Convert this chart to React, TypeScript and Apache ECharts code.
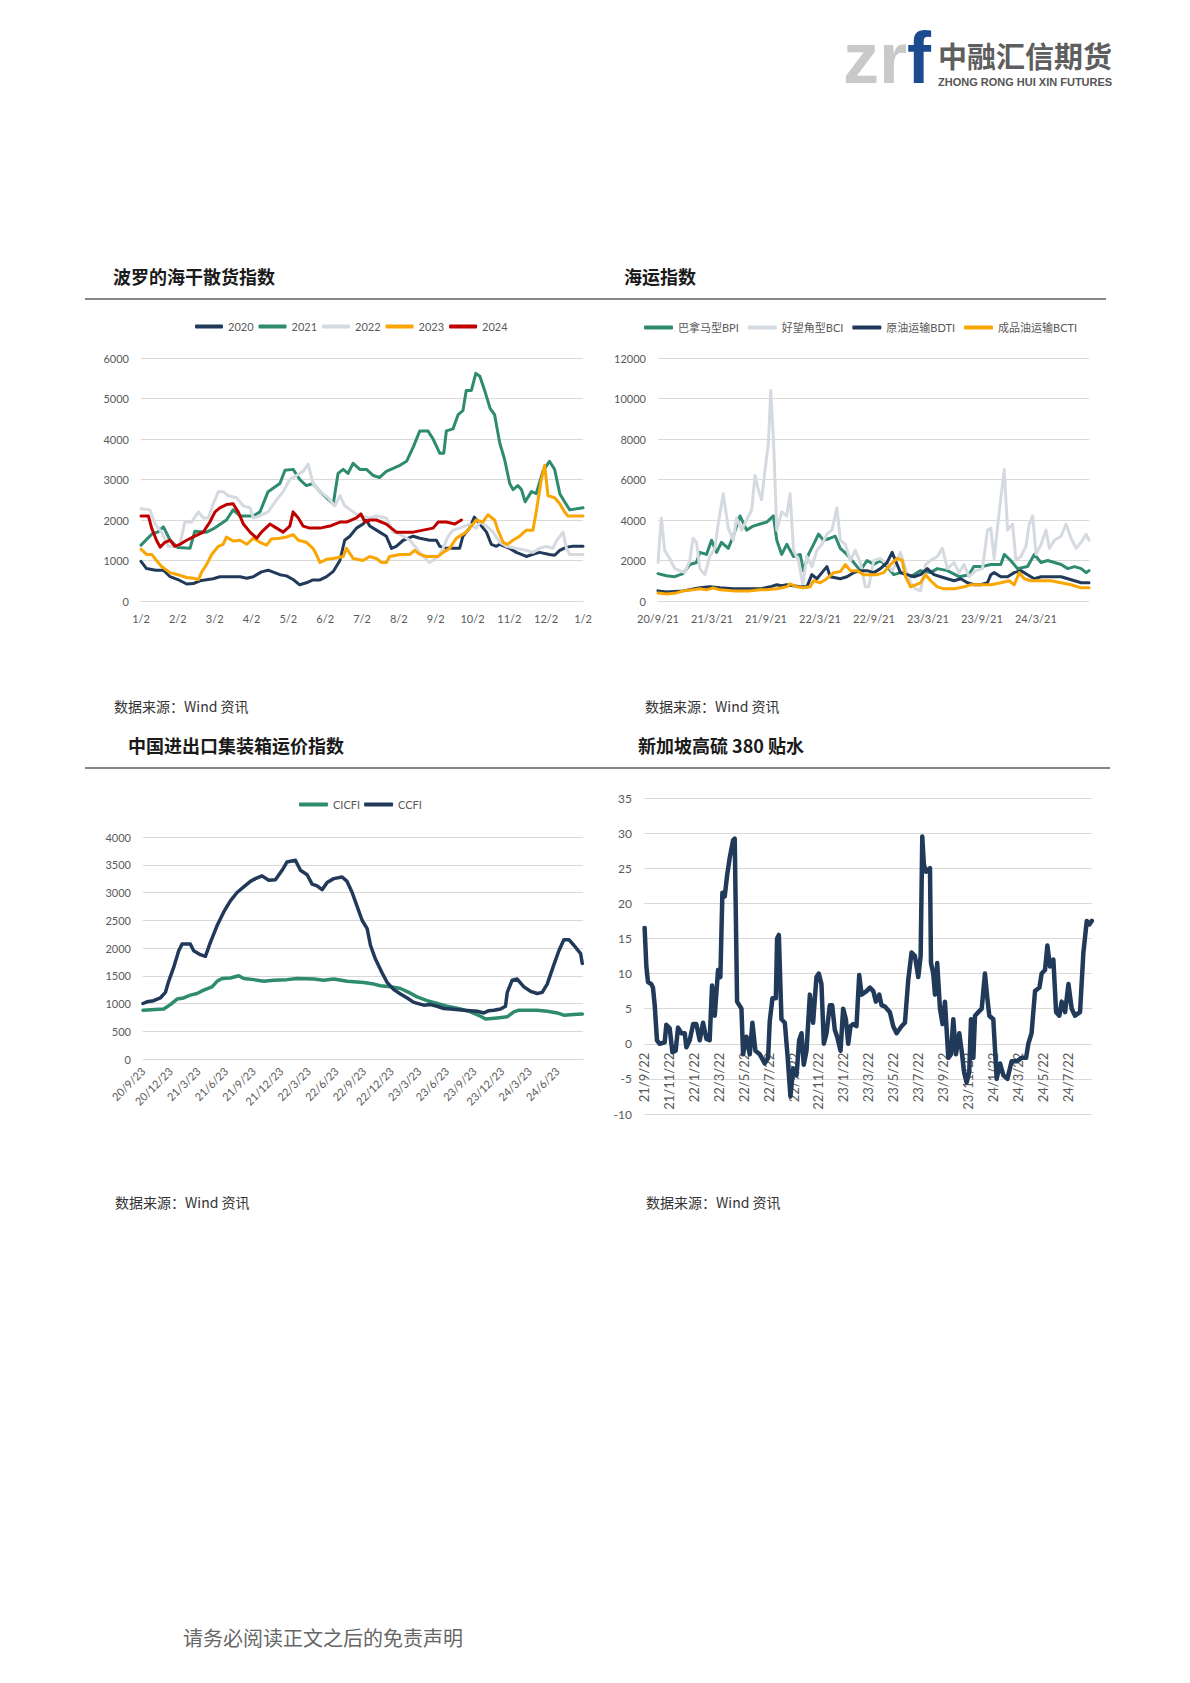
import React, { useEffect, useRef } from "react";
import * as echarts from "echarts";

type P = [number, number][];

// ---------- Chart 1: BDI by year (x = months since 1/2) ----------
const bdiMonthTicks = ["1/2", "2/2", "3/2", "4/2", "5/2", "6/2", "7/2", "8/2", "9/2", "10/2", "11/2", "12/2", "1/2"];
const bdiYears = ["2020", "2021", "2022", "2023", "2024"];
const bdi2020: P = [[0,980],[0.15,800],[0.4,760],[0.61,760],[0.79,600],[1.0,530],[1.24,420],[1.42,430],[1.6,500],[1.96,550],[2.14,600],[2.69,600],[2.87,560],[3.05,600],[3.27,720],[3.45,760],[3.77,650],[3.95,620],[4.13,530],[4.31,400],[4.49,450],[4.67,520],[4.86,520],[5.04,600],[5.22,730],[5.4,1000],[5.53,1500],[5.67,1600],[5.85,1800],[6.03,1900],[6.12,2000],[6.21,1850],[6.48,1700],[6.66,1600],[6.8,1300],[6.93,1350],[7.12,1500],[7.39,1600],[7.57,1550],[7.84,1500],[8.02,1500],[8.11,1350],[8.29,1300],[8.65,1300],[8.74,1600],[8.92,1800],[9.05,2070],[9.2,1900],[9.38,1700],[9.51,1400],[9.65,1350],[9.74,1400],[10.01,1300],[10.19,1200],[10.46,1100],[10.64,1150],[10.82,1200],[11.09,1150],[11.23,1130],[11.37,1250],[11.55,1330],[11.73,1350],[12,1350]];
const bdi2021: P = [[0,1380],[0.29,1650],[0.45,1700],[0.61,1830],[0.79,1500],[1.0,1320],[1.33,1300],[1.46,1720],[1.78,1700],[1.96,1780],[2.32,2000],[2.5,2250],[2.69,2100],[3.05,2100],[3.23,2200],[3.45,2700],[3.77,2900],[3.91,3230],[4.13,3250],[4.31,3000],[4.49,2850],[4.67,2900],[4.86,2700],[5.22,2400],[5.35,3150],[5.49,3250],[5.62,3150],[5.76,3400],[5.94,3250],[6.12,3250],[6.3,3100],[6.48,3050],[6.66,3200],[7.03,3350],[7.21,3450],[7.39,3800],[7.57,4200],[7.79,4200],[7.93,4000],[8.11,3650],[8.22,3650],[8.29,4200],[8.47,4250],[8.61,4600],[8.74,4700],[8.83,5200],[8.97,5200],[9.09,5620],[9.2,5550],[9.33,5200],[9.48,4750],[9.6,4600],[9.74,3900],[9.87,3500],[10.01,2900],[10.1,2750],[10.23,2850],[10.33,2750],[10.43,2450],[10.6,2700],[10.73,2650],[10.91,3200],[11.09,3450],[11.23,3250],[11.37,2650],[11.5,2450],[11.64,2250],[12,2300]];
const bdi2022: P = [[0,2280],[0.24,2250],[0.38,1900],[0.56,1700],[0.74,1350],[0.92,1350],[1.06,1400],[1.19,1950],[1.37,1950],[1.56,2200],[1.69,2050],[1.83,2050],[1.96,2400],[2.1,2700],[2.23,2700],[2.37,2600],[2.59,2550],[2.78,2350],[2.96,2300],[3.05,2050],[3.23,2100],[3.45,2200],[3.68,2500],[3.86,2700],[4.04,3000],[4.22,3100],[4.4,3200],[4.54,3380],[4.67,2900],[4.86,2700],[5.08,2550],[5.26,2350],[5.4,2600],[5.53,2350],[5.76,2200],[5.94,2100],[6.21,2050],[6.39,2100],[6.66,2050],[6.84,1700],[7.03,1650],[7.3,1500],[7.48,1300],[7.66,1100],[7.84,950],[8.07,1100],[8.2,1300],[8.34,1600],[8.47,1750],[8.65,1800],[8.92,1900],[9.1,1800],[9.2,1950],[9.38,1850],[9.56,1700],[9.74,1450],[9.92,1350],[10.19,1300],[10.46,1250],[10.64,1200],[10.82,1300],[11.0,1350],[11.18,1300],[11.29,1500],[11.46,1700],[11.55,1300],[11.64,1150],[12,1150]];
const bdi2023: P = [[0,1280],[0.15,1150],[0.29,1150],[0.42,1000],[0.56,850],[0.79,700],[1.0,650],[1.24,580],[1.42,560],[1.56,530],[1.65,720],[1.78,900],[1.92,1150],[2.1,1350],[2.23,1400],[2.32,1580],[2.5,1480],[2.69,1500],[2.87,1400],[3.05,1550],[3.23,1450],[3.41,1380],[3.54,1530],[3.77,1550],[3.95,1580],[4.13,1640],[4.27,1500],[4.49,1450],[4.67,1300],[4.76,1150],[4.86,950],[5.04,1030],[5.22,1050],[5.49,1100],[5.58,1300],[5.76,1050],[6.03,1000],[6.21,1100],[6.39,1050],[6.53,950],[6.66,950],[6.75,1100],[7.03,1150],[7.3,1150],[7.43,1250],[7.57,1150],[7.75,1100],[8.07,1100],[8.2,1200],[8.38,1300],[8.56,1550],[8.83,1700],[8.97,1850],[9.1,2000],[9.28,1950],[9.42,2130],[9.6,2000],[9.69,1750],[9.83,1450],[9.95,1400],[10.1,1500],[10.28,1600],[10.46,1750],[10.64,1750],[10.73,2200],[10.87,3000],[10.96,3350],[11.05,2600],[11.23,2550],[11.37,2400],[11.5,2200],[11.59,2100],[12,2100]];
const bdi2024: P = [[0,2100],[0.2,2100],[0.29,1800],[0.42,1500],[0.52,1330],[0.65,1450],[0.79,1500],[0.92,1350],[1.06,1400],[1.24,1500],[1.46,1600],[1.69,1700],[1.87,1950],[2.01,2200],[2.14,2300],[2.32,2380],[2.5,2400],[2.64,2200],[2.78,1900],[2.96,1700],[3.14,1550],[3.27,1700],[3.5,1900],[3.68,1800],[3.86,1700],[4.04,1850],[4.13,2200],[4.27,2050],[4.4,1850],[4.58,1800],[4.86,1800],[5.13,1850],[5.4,1950],[5.58,1950],[5.85,2050],[5.97,2150],[6.08,1950],[6.21,2000],[6.39,2000],[6.66,1900],[6.93,1700],[7.21,1700],[7.39,1700],[7.66,1750],[7.93,1800],[8.07,1950],[8.29,1950],[8.52,1900],[8.7,2000]];

// ---------- Chart 2: shipping indices (x = months since 2020-09-21) ----------
const shipNames = ["巴拿马型BPI", "好望角型BCI", "原油运输BDTI", "成品油运输BCTI"];
const bpi: P = [[0,1350],[0.93,1250],[1.86,1200],[2.79,1350],[3.53,1800],[4.28,1900],[4.65,2400],[5.39,2300],[5.95,3000],[6.51,2400],[7.06,2900],[7.81,2600],[8.36,3200],[9.11,4200],[9.85,3500],[10.59,3700],[11.34,3800],[12.08,3900],[12.83,4200],[13.2,3000],[13.75,2300],[14.31,2800],[15.06,2200],[15.8,2300],[16.17,1500],[16.73,2300],[17.29,2800],[17.84,3300],[18.4,3000],[19.14,3100],[19.7,3200],[20.26,2600],[21.0,2300],[21.75,1900],[22.49,1500],[23.23,2000],[23.98,1800],[24.72,2000],[25.46,1700],[26.21,1300],[26.95,1400],[28.07,1200],[29.18,1500],[30.3,1400],[31.04,1600],[32.16,1500],[33.46,1200],[34.57,1300],[35.1,1700],[36.06,1700],[37.0,1800],[38.1,1800],[38.48,2300],[39.2,2000],[39.95,1600],[41.07,1700],[41.82,2300],[42.57,1900],[43.31,2000],[44.05,1900],[44.8,1800],[45.54,1600],[46.29,1700],[47.03,1600],[47.58,1400],[47.9,1500]];
const bci: P = [[0,1900],[0.37,4100],[0.74,2500],[1.3,2100],[1.86,1600],[2.42,1500],[2.97,1400],[3.53,2000],[3.9,3100],[4.28,2900],[4.65,1600],[5.2,1300],[5.76,2200],[6.32,2600],[6.69,3800],[7.25,5300],[7.81,3600],[8.36,3000],[8.74,4100],[9.29,3500],[9.85,4000],[10.41,4500],[10.78,6200],[11.15,5500],[11.52,5000],[11.9,6500],[12.27,7800],[12.53,10400],[12.83,8000],[13.2,3500],[13.75,4400],[14.31,4200],[14.68,5300],[15.06,2500],[15.61,2000],[16.1,800],[16.54,2200],[17.1,1700],[17.66,2500],[18.22,2800],[18.77,3300],[19.33,3500],[19.89,4600],[20.26,3000],[20.82,2800],[21.38,2000],[21.93,2500],[22.49,1900],[23.05,700],[23.42,700],[23.98,2000],[24.72,2100],[25.46,1800],[26.02,1500],[26.39,1800],[26.95,2400],[27.51,1600],[28.07,900],[28.62,600],[29.18,500],[29.74,1800],[30.3,2000],[31.04,2200],[31.6,2600],[32.16,1600],[32.9,1900],[33.46,1400],[34.01,1800],[34.57,1200],[35.32,1500],[36.06,1600],[36.62,3500],[36.99,3600],[37.36,2100],[37.92,4400],[38.48,6500],[38.85,3500],[39.41,3800],[39.78,2000],[40.33,2200],[40.89,2700],[41.26,3800],[41.64,4200],[42.01,2300],[42.57,2800],[43.12,3500],[43.49,2600],[44.05,3000],[44.8,3200],[45.35,3800],[45.91,3100],[46.47,2600],[47.03,2900],[47.58,3300],[47.9,3000]];
const bdti: P = [[0,500],[0.93,450],[2.79,500],[4.65,650],[5.76,700],[6.88,650],[8.36,600],[10.22,600],[11.34,600],[12.45,700],[13.2,800],[13.75,750],[14.31,800],[15.06,750],[15.8,700],[16.54,700],[17.1,1300],[17.66,1100],[18.22,1400],[18.77,1700],[19.14,1200],[20.26,1100],[21.0,1200],[21.75,1400],[22.49,1500],[23.23,1500],[23.98,1400],[24.72,1600],[25.46,1900],[26.02,2400],[26.39,2000],[26.95,1400],[27.7,1300],[28.44,1200],[29.18,1300],[29.93,1600],[30.67,1300],[31.41,1200],[32.16,1100],[32.9,1000],[33.64,1100],[34.39,900],[35.13,800],[35.87,800],[36.62,900],[36.99,1300],[37.36,1400],[38.1,1200],[38.85,1200],[39.59,1400],[40.33,1500],[41.07,1300],[41.82,1100],[42.57,1200],[43.31,1200],[44.05,1200],[44.8,1200],[45.54,1100],[46.29,1000],[47.03,900],[47.9,900]];
const bcti: P = [[0,400],[0.93,350],[2.04,400],[2.79,500],[3.9,550],[4.65,600],[5.39,550],[6.13,650],[6.88,550],[8.36,500],[10.22,500],[11.34,550],[12.08,550],[13.2,600],[14.31,700],[14.68,850],[15.43,700],[16.17,650],[16.91,700],[17.29,1000],[18.03,900],[18.77,1100],[19.52,1400],[20.26,1450],[20.82,1800],[21.38,1500],[22.12,1500],[22.86,1300],[23.61,1300],[24.35,1300],[25.09,1400],[25.84,1800],[26.58,2100],[27.14,2000],[27.51,1200],[28.07,700],[28.62,800],[29.18,900],[29.74,1300],[30.3,1000],[31.04,700],[31.78,600],[32.9,600],[34.01,700],[34.76,800],[35.87,800],[36.99,800],[38.1,900],[39.03,1000],[39.59,800],[40.15,1400],[40.71,1100],[41.45,1000],[42.2,1000],[42.94,1000],[43.68,1000],[44.8,900],[45.91,800],[47.03,650],[47.9,650]];

// ---------- Chart 3: container freight (x = months since 2020-09-23) ----------
const boxNames = ["CICFI", "CCFI"];
const cicfi: P = [[0,880],[2.25,900],[2.97,980],[3.7,1080],[4.42,1100],[5.14,1150],[5.87,1180],[6.59,1240],[7.5,1300],[8.04,1400],[8.59,1450],[9.49,1460],[10.4,1500],[10.94,1450],[12.03,1430],[13.12,1400],[14.2,1420],[15.65,1430],[16.74,1450],[18.55,1440],[19.64,1420],[20.72,1440],[22.17,1400],[23.98,1380],[25.07,1350],[25.8,1320],[26.88,1300],[27.97,1270],[28.88,1200],[29.78,1120],[30.87,1050],[31.96,1000],[33.04,950],[34.49,900],[35.58,850],[36.67,770],[37.21,720],[38.48,740],[39.57,760],[40.29,850],[40.83,880],[42.83,880],[43.91,860],[45.0,830],[45.72,790],[46.81,800],[47.72,810]];
const ccfi: P = [[0,1000],[0.43,1030],[1.16,1050],[1.88,1100],[2.43,1200],[2.79,1400],[3.33,1650],[3.88,1950],[4.24,2070],[5.14,2070],[5.51,1950],[6.23,1880],[6.78,1850],[7.32,2100],[8.04,2400],[8.77,2650],[9.49,2850],[10.22,3000],[10.94,3100],[11.67,3200],[12.21,3250],[12.93,3300],[13.66,3220],[14.38,3230],[15.11,3400],[15.65,3550],[16.56,3580],[17.1,3400],[17.83,3320],[18.37,3150],[18.91,3120],[19.46,3050],[20.0,3180],[20.72,3250],[21.63,3280],[22.17,3200],[22.72,3000],[23.26,2750],[23.8,2500],[24.35,2350],[24.71,2050],[25.25,1800],[25.98,1550],[26.52,1380],[27.25,1250],[27.97,1170],[28.7,1100],[29.42,1020],[30.51,970],[31.23,980],[31.96,950],[32.68,910],[33.41,900],[34.86,880],[36.3,860],[37.03,830],[37.57,870],[38.12,880],[38.84,900],[39.38,950],[39.57,1200],[40.11,1420],[40.65,1440],[41.38,1300],[42.1,1220],[42.83,1180],[43.37,1200],[43.91,1350],[44.64,1700],[45.18,1950],[45.72,2150],[46.27,2150],[46.81,2050],[47.54,1900],[47.72,1720]];

// ---------- Chart 4: Singapore HSFO 380 spread (x = months since 2021-09-22) ----------
const sgSpread: P = [[0.05,16.5],[0.19,11],[0.32,8.8],[0.59,8.5],[0.72,8.0],[0.86,5.5],[1.04,0.5],[1.26,0],[1.66,0.2],[1.79,2.7],[2.06,2.2],[2.28,-1.2],[2.54,-1.0],[2.73,2.3],[3.0,1.5],[3.27,1.5],[3.4,-0.5],[3.67,0.5],[3.94,2.8],[4.2,2.8],[4.47,0.5],[4.74,3.0],[5.01,0.7],[5.27,0.5],[5.46,8.3],[5.68,4.0],[5.94,10.5],[6.13,9.5],[6.29,21.5],[6.48,21.0],[6.67,24.0],[6.88,26.5],[7.15,29.0],[7.28,29.2],[7.47,6.0],[7.82,5.0],[7.95,-1.5],[8.22,1.0],[8.49,-1.5],[8.7,3.0],[8.94,-1.0],[9.29,-1.5],[9.69,-2.8],[9.96,-2.0],[10.09,3.2],[10.31,6.5],[10.58,6.5],[10.68,15.0],[10.82,15.5],[11.03,3.5],[11.3,3.0],[11.51,-1.5],[11.75,-7.5],[11.97,-3.5],[12.24,-4.5],[12.45,0.5],[12.64,1.5],[12.82,-3.0],[13.04,-1.0],[13.31,7.0],[13.57,3.0],[13.84,9.5],[14.03,10.0],[14.24,8.5],[14.43,0.0],[14.65,1.5],[14.91,5.5],[15.1,5.5],[15.31,2.0],[15.5,1.0],[15.77,-1.0],[15.98,5.0],[16.2,3.5],[16.39,0.0],[16.57,2.5],[16.79,2.8],[17.05,2.5],[17.27,9.8],[17.46,7.0],[17.86,7.5],[18.13,8.0],[18.4,7.5],[18.61,6.0],[18.88,7.0],[19.06,5.5],[19.33,5.3],[19.73,4.5],[20.0,2.5],[20.27,1.5],[20.67,2.5],[20.94,3.0],[21.2,9.0],[21.47,13.0],[21.74,12.5],[22.01,9.5],[22.2,12.5],[22.33,29.5],[22.46,25.5],[22.62,24.5],[22.95,25.0],[23.03,11.5],[23.21,10.0],[23.35,7.0],[23.53,11.5],[23.75,5.0],[23.96,2.8],[24.15,6.0],[24.42,-2.0],[24.63,-1.5],[24.82,3.5],[25.03,-1.5],[25.3,1.5],[25.49,-1.0],[25.68,-4.0],[25.89,-5.5],[26.1,-4.0],[26.24,3.5],[26.43,-2.0],[26.56,4.0],[26.83,4.5],[27.1,5.0],[27.36,10.0],[27.55,6.5],[27.71,4.0],[28.03,3.5],[28.3,-5.0],[28.57,-2.8],[28.84,-4.5],[29.16,-5.0],[29.5,-2.5],[29.91,-2.5],[30.31,-2.0],[30.66,-2.0],[30.84,0.0],[31.1,1.5],[31.38,7.5],[31.73,8.0],[31.91,10.0],[32.18,10.5],[32.37,14.0],[32.58,11.0],[32.85,12.0],[33.07,4.5],[33.33,4.0],[33.52,6.0],[33.79,4.5],[34.06,8.5],[34.32,5.0],[34.59,4.0],[34.99,4.5],[35.26,13.0],[35.53,17.5],[35.74,17.0],[35.93,17.5]];
const sgYMin = -10;
const sgYMax = 35;

const NAVY = "#213A5A";
const GREEN = "#2E8B6F";
const GRAY = "#D5DAE1";
const ORANGE = "#F9A602";
const RED = "#C00000";
const LABEL = "#595959";
const GRID = "#D9D9D9";
const FONT = "Lato, 'Noto Sans CJK SC', sans-serif";
const CJK = "'Noto Sans CJK SC', sans-serif";
const LOGO_FONT = "'Liberation Sans', Arial, sans-serif";

function monthFmt(startYear: number, startMonth: number, day: number, step: number) {
  return (v: number) => {
    const r = Math.round(v);
    if (Math.abs(v - r) > 1e-6 || r % step !== 0) return "";
    const t = startMonth - 1 + r;
    const y = startYear + Math.floor(t / 12);
    const m = (t % 12) + 1;
    return `${String(y).slice(2)}/${m}/${day}`;
  };
}

function yAxis(gridIndex: number, min: number, max: number, interval: number, fontSize = 11) {
  return {
    type: "value", gridIndex, min, max, interval,
    axisLine: { show: false, onZero: false }, axisTick: { show: false },
    splitLine: { lineStyle: { color: GRID, width: 1 } },
    axisLabel: { color: LABEL, fontSize, fontFamily: FONT, margin: 12, formatter: (v: number) => String(v) },
  };
}

function line(name: string, data: P, color: string, xi: number, width = 3) {
  return {
    type: "line", name, data, xAxisIndex: xi, yAxisIndex: xi,
    symbol: "none", showSymbol: false, color,
    lineStyle: { color, width, join: "round", cap: "round" },
    emphasis: { disabled: true },
  };
}

function txt(text: string, x: number, y: number, fontSize: number, fill: string, fontWeight: any = "normal", fontFamily = CJK) {
  return { type: "text", x, y, silent: true, style: { text, fontSize, fill, fontWeight, fontFamily, align: "left", verticalAlign: "middle" } };
}

export default function App() {
  const ref = useRef<HTMLDivElement>(null);
  useEffect(() => {
    if (!ref.current) return;
    const chart = echarts.init(ref.current, null, { renderer: "svg" });
    const legendText = { fontSize: 11, color: LABEL, fontFamily: FONT };
    const g4 = { left: 644, top: 798, width: 448, height: 316 };
    // distance from the grid's bottom edge up to the value 0 on the y axis
    const zeroLift = (g4.height * (0 - sgYMin)) / (sgYMax - sgYMin);
    const option: any = {
      animation: false,
      backgroundColor: "#ffffff",
      grid: [
        { left: 141, top: 358, width: 442, height: 243 },
        { left: 658, top: 358, width: 431, height: 243 },
        { left: 143, top: 837, width: 440, height: 222 },
        g4,
      ],
      legend: [
        { data: bdiYears, left: 190, top: 316, icon: "roundRect", itemWidth: 28, itemHeight: 4, itemGap: 5, textStyle: legendText },
        { data: shipNames, left: 639, top: 317, icon: "roundRect", itemWidth: 29, itemHeight: 4, itemGap: 9, textStyle: legendText },
        { data: boxNames, left: 294, top: 794, icon: "roundRect", itemWidth: 29, itemHeight: 4, itemGap: 4, textStyle: legendText },
      ],
      xAxis: [
        {
          type: "value", gridIndex: 0, min: 0, max: 12, interval: 1,
          axisLine: { lineStyle: { color: GRID } }, axisTick: { show: false }, splitLine: { show: false },
          axisLabel: { color: LABEL, fontSize: 11, fontFamily: FONT, margin: 12, showMinLabel: true, showMaxLabel: true,
            formatter: (v: number) => bdiMonthTicks[Math.round(v)] ?? "" },
        },
        {
          type: "value", gridIndex: 1, min: 0, max: 47.9, interval: 6,
          axisLine: { lineStyle: { color: GRID } }, axisTick: { show: false }, splitLine: { show: false },
          axisLabel: { color: LABEL, fontSize: 11, fontFamily: FONT, margin: 12, showMinLabel: true, showMaxLabel: false,
            formatter: monthFmt(2020, 9, 21, 6) },
        },
        {
          type: "value", gridIndex: 2, min: 0, max: 47.8, interval: 3,
          axisLine: { lineStyle: { color: GRID } }, axisTick: { show: false }, splitLine: { show: false },
          axisLabel: { color: LABEL, fontSize: 11, fontFamily: FONT, margin: 10, rotate: 45, showMinLabel: true, showMaxLabel: false,
            formatter: monthFmt(2020, 9, 23, 3) },
        },
        {
          type: "value", gridIndex: 3, min: 0, max: 35.95, interval: 2, position: "bottom", offset: -zeroLift,
          axisLine: { onZero: false, lineStyle: { color: GRID } }, axisTick: { show: false }, splitLine: { show: false },
          axisLabel: { color: LABEL, fontSize: 13, fontFamily: FONT, margin: 9, rotate: 90, showMinLabel: true, showMaxLabel: false,
            formatter: monthFmt(2021, 9, 22, 2) },
        },
      ],
      yAxis: [
        yAxis(0, 0, 6000, 1000),
        yAxis(1, 0, 12000, 2000),
        yAxis(2, 0, 4000, 500),
        yAxis(3, sgYMin, sgYMax, 5, 12),
      ],
      series: [
        line("2020", bdi2020, NAVY, 0),
        line("2021", bdi2021, GREEN, 0),
        line("2022", bdi2022, GRAY, 0),
        line("2023", bdi2023, ORANGE, 0),
        line("2024", bdi2024, RED, 0),
        line(shipNames[0], bpi, GREEN, 1),
        line(shipNames[1], bci, GRAY, 1),
        line(shipNames[2], bdti, NAVY, 1),
        line(shipNames[3], bcti, ORANGE, 1),
        line(boxNames[0], cicfi, GREEN, 2, 3.5),
        line(boxNames[1], ccfi, NAVY, 2, 3.5),
        line("新加坡高硫380贴水", sgSpread, NAVY, 3, 4.5),
      ],
      graphic: [
        // logo
        {
          type: "text", x: 843, y: 22, silent: true,
          style: {
            text: "{a|zr}{b|f}", align: "left", verticalAlign: "top",
            rich: {
              a: { fontSize: 72, fontWeight: "bold", fontFamily: LOGO_FONT, fill: "#C9C9C9" },
              b: { fontSize: 72, fontWeight: "bold", fontFamily: LOGO_FONT, fill: "#1C4A8E" },
            },
          },
        },
        txt("中融汇信期货", 938, 55, 29, "#5E5E5E", "bold"),
        txt("ZHONG RONG HUI XIN FUTURES", 938, 82, 11, "#555555", "bold", LOGO_FONT),
        // titles
        txt("波罗的海干散货指数", 113, 276, 18, "#1a1a1a", "bold"),
        txt("海运指数", 624, 276, 18, "#1a1a1a", "bold"),
        txt("中国进出口集装箱运价指数", 128, 745, 18, "#1a1a1a", "bold"),
        txt("新加坡高硫 380 贴水", 638, 745, 18, "#1a1a1a", "bold"),
        // dividers
        { type: "line", silent: true, shape: { x1: 85, y1: 299, x2: 1106, y2: 299 }, style: { stroke: "#5F5F5F", lineWidth: 1.5 } },
        { type: "line", silent: true, shape: { x1: 85, y1: 768, x2: 1110, y2: 768 }, style: { stroke: "#5F5F5F", lineWidth: 1.5 } },
        // sources
        txt("数据来源：Wind 资讯", 114, 706, 14, "#333333"),
        txt("数据来源：Wind 资讯", 645, 706, 14, "#333333"),
        txt("数据来源：Wind 资讯", 115, 1202, 14, "#333333"),
        txt("数据来源：Wind 资讯", 646, 1202, 14, "#333333"),
        // footer
        txt("请务必阅读正文之后的免责声明", 183, 1637, 20, "#666666"),
      ],
    };
    chart.setOption(option);
    return () => chart.dispose();
  }, []);
  return <div ref={ref} style={{ position: "absolute", left: 0, top: 0, width: 1190, height: 1683, background: "#fff" }} />;
}
